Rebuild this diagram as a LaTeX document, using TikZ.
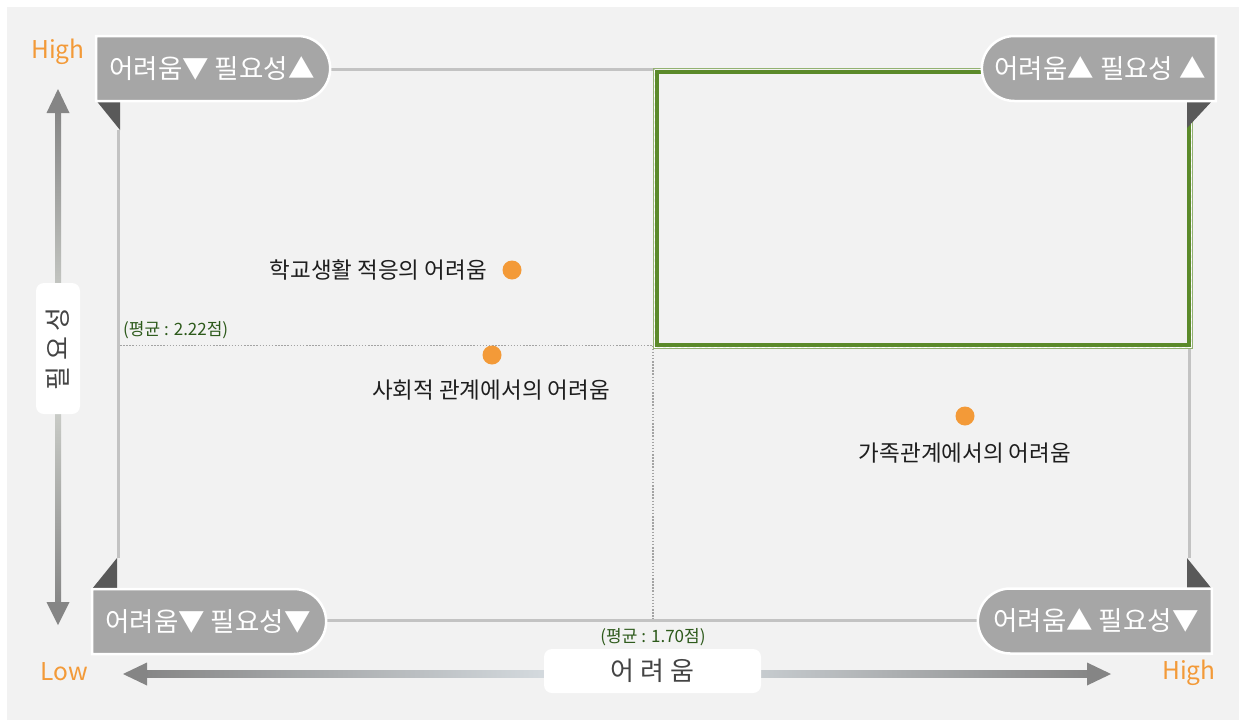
\documentclass[tikz,border=0pt]{standalone}
\usepackage{fontspec}
\setmainfont{Noto Sans CJK KR}
\usetikzlibrary{shapes.misc}
\definecolor{bggray}{HTML}{F2F2F2}
\definecolor{boxgray}{HTML}{A6A6A6}
\definecolor{darktri}{HTML}{595959}
\definecolor{framegray}{HTML}{C3C3C3}
\definecolor{dotgray}{HTML}{A3A3A3}
\definecolor{ggreen}{HTML}{5B8A2A}
\definecolor{lgreen}{HTML}{93B271}
\definecolor{tgreen}{HTML}{2D5A1B}
\definecolor{orng}{HTML}{F39A38}
\definecolor{txt}{HTML}{1E1E1E}
\definecolor{arrdark}{HTML}{858585}
\definecolor{arrlight}{HTML}{DCDFD9}
\definecolor{arrblue}{HTML}{E2E9EE}
\definecolor{lbl}{HTML}{444444}
\tikzset{
  cornerbox/.style={rounded rectangle, fill=boxgray, draw=white, line width=2.5pt,
    minimum width=234pt, minimum height=65pt, inner sep=0pt, text=white,
    font=\fontsize{26.5}{30}\selectfont},
  framel/.style={draw=framegray, line width=3pt},
  avgl/.style={draw=dotgray, line width=1.5pt, dash pattern=on 1.5pt off 1.6pt},
  tri/.style={fill=darktri},
  dot/.style={circle, fill=orng, minimum size=19pt, inner sep=0pt},
  ptlabel/.style={text=txt, font=\fontsize{22.5}{26}\selectfont, inner sep=0pt},
  avglabel/.style={text=tgreen, font=\fontsize{17}{20}\selectfont, inner sep=0pt},
  hilo/.style={text=orng, font=\fontsize{24.5}{28}\selectfont, inner sep=0pt},
  axlabel/.style={fill=white, rounded corners=8pt, text=lbl, inner sep=0pt,
    font=\fontsize{26}{30}\selectfont},
  arrhead/.style={fill=arrdark}
}
\begin{document}
\begin{tikzpicture}[x=1pt,y=-1pt]
\useasboundingbox[fill=white] (0,0) rectangle (1239,720);
\fill[bggray] (7,7) rectangle (1239,720);

% coordinates of the frame
\coordinate (tl) at (118,130);
\coordinate (bl) at (118,558);
\coordinate (trg) at (1189.5,347);
\coordinate (br) at (1189.5,558);
\coordinate (gtop) at (655,69);
\coordinate (bline) at (977,620);
\coordinate (avgL) at (120,345.5);
\coordinate (avgC) at (653,345.5);
\coordinate (avgB) at (653,619);

% average lines
\draw[avgl] (avgL) -- (avgC);
\draw[avgl] (avgC) -- (avgB);

% frame lines
\draw[framel] (tl) -- (bl);
\draw[framel] (trg) -- (br);
\draw[framel] (330,69) -- (gtop);
\draw[framel] (327,620) -- (bline);

% green box
\draw[lgreen, line width=1pt] (653,68.5) rectangle (1192.5,348.5);
\draw[white, line width=0.6pt, dashed] (654.5,70) rectangle (1191,347);
\draw[ggreen, line width=4.5pt] (657,72) rectangle (1189,345);

% triangles
\fill[tri] (95,99) -- (120,99) -- (120,130) -- cycle;
\fill[tri] (1187,100) -- (1213,100) -- (1187,128) -- cycle;
\fill[tri] (92,589) -- (117,589) -- (117,558) -- cycle;
\fill[tri] (1187,589) -- (1212,589) -- (1187,558) -- cycle;

% corner boxes
\node[cornerbox, rounded rectangle west arc=none] (btl) at (212,68.5) {어려움▼ 필요성▲};
\node[cornerbox, rounded rectangle east arc=none] (btr) at (1100,68.5) {어려움▲ 필요성 ▲};
\node[cornerbox, rounded rectangle west arc=none] (bbl) at (208,621.5) {어려움▼ 필요성▼};
\node[cornerbox, rounded rectangle east arc=none] (bbr) at (1096,621) {어려움▲ 필요성▼};

% vertical axis arrow
\shade[top color=arrdark, bottom color=arrdark, middle color=arrlight] (55,108) rectangle (61,607);
\fill[arrhead] (58,89) -- (69.5,113) -- (46.5,113) -- cycle;
\fill[arrhead] (58,625) -- (69.5,602) -- (46.5,602) -- cycle;
\node[axlabel, minimum width=44pt, minimum height=131pt] (ylab) at (58,348.5) {};
\node[text=lbl, font=\fontsize{26}{30}\selectfont, rotate=90, inner sep=0pt] (ytxt) at (58,349) {필 요 성};

% horizontal axis arrow
\shade[left color=arrdark, right color=arrdark, middle color=arrblue] (140,670.5) rectangle (1094,677.5);
\fill[arrhead] (123,674) -- (147,662.5) -- (147,685.5) -- cycle;
\fill[arrhead] (1111,674) -- (1087,662.5) -- (1087,685.5) -- cycle;
\node[axlabel, minimum width=217pt, minimum height=44pt] (xlab) at (652.5,671) {어 려 움};

% high / low
\node[hilo] (hi1) at (58,52) {High};
\node[hilo] (lo) at (64,672) {Low};
\node[hilo] (hi2) at (1189,673) {High};

% averages
\node[avglabel, anchor=west] (a1) at (123,330) {(평균 : 2.22점)};
\node[avglabel] (a2) at (653,637) {(평균 : 1.70점)};

% points
\node[dot] (p1) at (512,270) {};
\node[ptlabel, anchor=east] (l1) at (487,270) {학교생활 적응의 어려움};
\node[dot] (p2) at (492,355) {};
\node[ptlabel] (l2) at (491,390) {사회적 관계에서의 어려움};
\node[dot] (p3) at (965,416) {};
\node[ptlabel] (l3) at (965,453) {가족관계에서의 어려움};
\end{tikzpicture}
\end{document}
